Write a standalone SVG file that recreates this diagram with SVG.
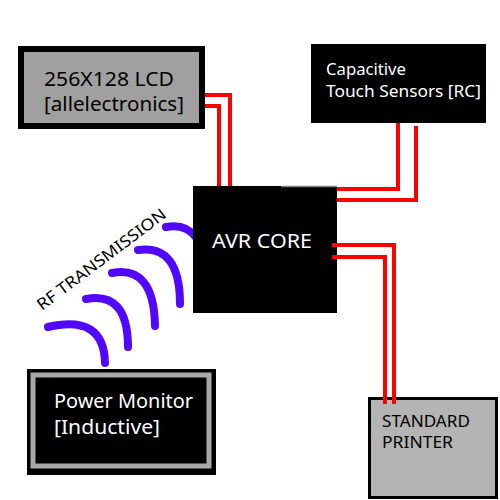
<svg xmlns="http://www.w3.org/2000/svg" width="500" height="500" viewBox="0 0 500 500">
<style>
.t{font-family:"Noto Sans","DejaVu Sans",sans-serif}
.w{fill:#fff}
.k{fill:#000}
.wire{fill:none;stroke:#ff0000;stroke-width:4}
.rf{fill:none;stroke:#5208ff;stroke-width:8;stroke-linecap:round}
</style>
<rect width="500" height="500" fill="#fff"/>
<g id="rf-waves">
<path class="rf" d="M48 327 Q104 314 105 363"/>
<path class="rf" d="M86 299 Q128 291 128 347"/>
<path class="rf" d="M112 273 Q154 265 155 326"/>
<path class="rf" d="M138 250 Q180 244 180 304"/>
<path class="rf" d="M166 227 Q205 220 208 282"/>
<text class="t k" x="42" y="311" font-size="16" transform="rotate(-37 42 311)" textLength="157" lengthAdjust="spacingAndGlyphs">RF TRANSMISSION</text>
</g>
<g id="lcd">
<rect x="21" y="49" width="181" height="77" fill="#a0a0a0" stroke="#000" stroke-width="6"/>
<text class="t k" x="44" y="86" font-size="20" textLength="130" lengthAdjust="spacingAndGlyphs">256X128 LCD</text>
<text class="t k" x="44" y="111" font-size="20" textLength="140" lengthAdjust="spacingAndGlyphs">[allelectronics]</text>
</g>
<g id="touch">
<rect x="311" y="44" width="175" height="79" fill="#000"/>
<text class="t w" x="326" y="75" font-size="16" textLength="80" lengthAdjust="spacingAndGlyphs">Capacitive</text>
<text class="t w" x="326" y="97" font-size="16" textLength="155" lengthAdjust="spacingAndGlyphs">Touch Sensors [RC]</text>
</g>
<g id="avr">
<rect x="193" y="186" width="144" height="127" fill="#000"/>
<line x1="281" y1="186.5" x2="337" y2="186.5" stroke="#808080" stroke-width="1.5"/>
<text class="t w" x="212" y="248" font-size="20" textLength="100" lengthAdjust="spacingAndGlyphs">AVR CORE</text>
</g>
<g id="power">
<rect x="27" y="369" width="189" height="106" fill="#000"/>
<rect x="33" y="375" width="176" height="91" fill="none" stroke="#a8a8a8" stroke-width="5"/>
<text class="t w" x="54" y="408" font-size="19" textLength="139" lengthAdjust="spacingAndGlyphs">Power Monitor</text>
<text class="t w" x="54" y="434" font-size="19" textLength="106" lengthAdjust="spacingAndGlyphs">[Inductive]</text>
</g>
<g id="printer">
<rect x="369.5" y="398.5" width="127" height="99" fill="#b4b4b4" stroke="#000" stroke-width="3"/>
<text class="t k" x="382" y="427" font-size="16" textLength="88" lengthAdjust="spacingAndGlyphs">STANDARD</text>
<text class="t k" x="382" y="448" font-size="16" textLength="71" lengthAdjust="spacingAndGlyphs">PRINTER</text>
</g>
<g id="connectors">
<path class="wire" d="M205 95 H230 V186"/>
<path class="wire" d="M205 106 H219 V186"/>
<path class="wire" d="M398 123 V189 H337"/>
<path class="wire" d="M416 126 V200 H337"/>
<path class="wire" d="M332 245 H394 V404"/>
<path class="wire" d="M332 257 H385 V404"/>
</g>
</svg>
